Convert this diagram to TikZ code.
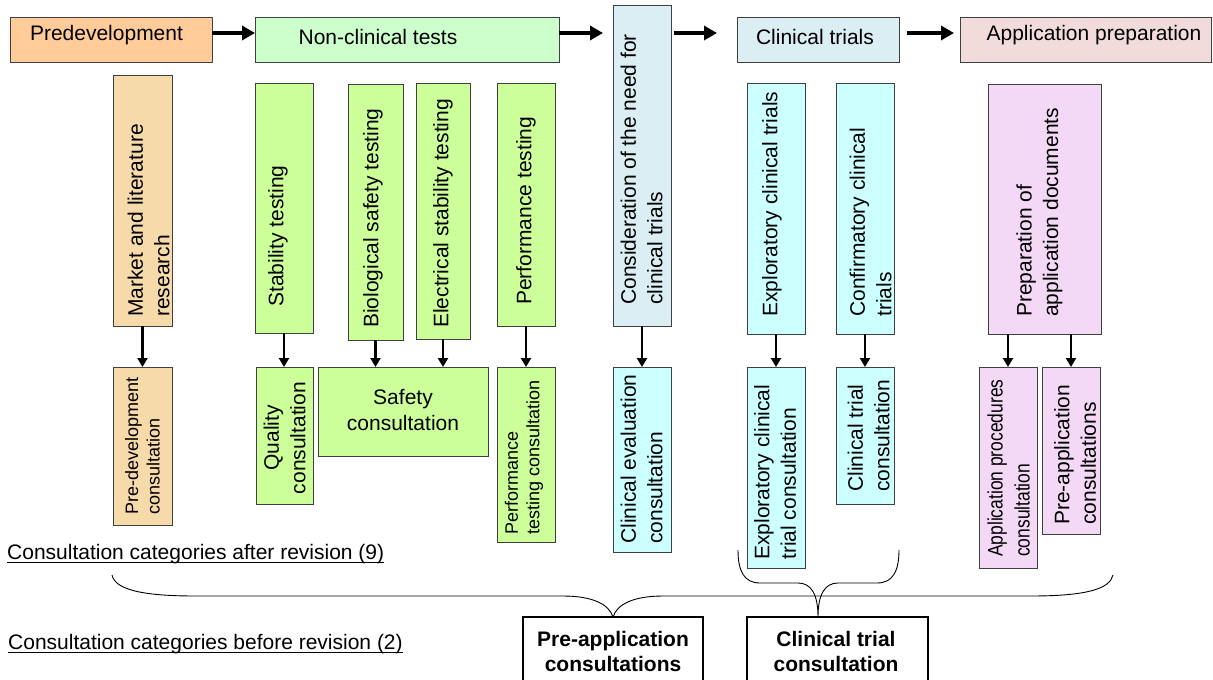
\documentclass[tikz,border=0pt]{standalone}
\usepackage{fontspec}
\setmainfont{Liberation Sans}
\newfontfamily\condfont[FakeStretch=0.83]{Liberation Sans}
\usetikzlibrary{arrows.meta,calc}

\definecolor{edge}{HTML}{404040}
\definecolor{peach}{HTML}{FFCC99}
\definecolor{mint}{HTML}{CCFFCC}
\definecolor{paleblue}{HTML}{DAEEF3}
\definecolor{rose}{HTML}{F2DCDB}
\definecolor{wheat}{HTML}{F7DAAA}
\definecolor{lime}{HTML}{CCFF99}
\definecolor{aqua}{HTML}{CCFFFF}
\definecolor{lilac}{HTML}{F3D9F6}

\newcommand{\fbig}{\fontsize{21}{26.5}\selectfont}
\newcommand{\fsmall}{\fontsize{18}{21.5}\selectfont}
\newcommand{\fcond}{\condfont\fontsize{21}{27}\selectfont}
\newcommand{\fbold}{\fontsize{21}{25}\selectfont\bfseries}

% \pbox[style]{name}{x1}{y1}{x2}{y2}{fill}: a rectangle node spanning the given corners
\newcommand{\pbox}[7][box]{%
  \node[#1, fill=#7, minimum width={(#5-#3)*1pt}, minimum height={(#6-#4)*1pt}]
    (#2) at ({(#3+#5)/2},{(#4+#6)/2}) {};}

\begin{document}
\begin{tikzpicture}[x=1pt,y=-1pt,
  box/.style={draw=edge, line width=1pt, inner sep=0pt, outer sep=0pt},
  oldbox/.style={draw=black, line width=1.2pt, inner sep=0pt, outer sep=0pt},
  htext/.style={anchor=base, inner sep=0pt, font=\fbig},
  vtext/.style={rotate=90, anchor=west, align=left, inner sep=0pt, font=\fbig},
  toparrow/.style={line width=3.5pt, -{Triangle[length=13pt,width=14pt]}},
  downarrow/.style={line width=2.2pt, -{Triangle[length=9pt,width=10pt]}},
  brace/.style={line width=0.9pt, line join=round}
]
\useasboundingbox (0,0) rectangle (1213,680);
\clip (0,0) rectangle (1213,680);

% ---- development stages ----
\pbox{predev}{10}{17}{212}{62}{peach}
\pbox{nonclin}{255}{17}{559}{62}{mint}
\pbox{consid}{613}{5}{671}{326}{paleblue}
\pbox{clin}{737}{17}{899}{62}{paleblue}
\pbox{apprep}{960}{17}{1211}{62}{rose}

\node[htext] (t-predev) at (106.5,40) {Predevelopment};
\node[htext] (t-nonclin) at (378,44) {Non-clinical tests};
\node[htext] (t-clin) at (815,44) {Clinical trials};
\node[htext] (t-apprep) at (1094,40) {Application preparation};

% ---- activities ----
\pbox{market}{113}{75}{172}{326}{wheat}
\pbox{stab}{255}{83}{313}{333}{lime}
\pbox{bio}{348}{84}{403}{340}{lime}
\pbox{elec}{416}{83}{470}{339}{lime}
\pbox{perf}{497}{83}{555}{326}{lime}
\pbox{explor}{747}{83}{805}{334}{aqua}
\pbox{confirm}{836}{83}{894}{334}{aqua}
\pbox{prep}{988}{84}{1101}{334}{lilac}

\node[vtext] (t-market) at (148.5,317) {Market and literature\\research};
\node[vtext] (t-stab) at (278,307) {Stability testing};
\node[vtext] (t-bio) at (373,328) {Biological safety testing};
\node[vtext] (t-elec) at (443,328) {Electrical stability testing};
\node[vtext] (t-perf) at (526,305) {Performance testing};
\node[vtext] (t-consid) at (641.5,305) {Consideration of the need for\\clinical trials};
\node[vtext] (t-explor) at (772,317) {Exploratory clinical trials};
\node[vtext] (t-confirm) at (870.5,317) {Confirmatory clinical\\trials};
\node[vtext] (t-prep) at (1039.5,317) {Preparation of\\application documents};

% ---- consultation categories after revision ----
\pbox{predevc}{113}{367}{172}{525}{wheat}
\pbox{quality}{256}{367}{313}{504}{lime}
\pbox{safety}{318}{367}{488}{456}{lime}
\pbox{perfc}{497}{367}{555}{542}{lime}
\pbox{clineval}{613}{367}{671}{552}{aqua}
\pbox{explorc}{747}{367}{805}{568}{aqua}
\pbox{clintrialc}{836}{367}{894}{504}{aqua}
\pbox{appproc}{979}{367}{1037}{568}{lilac}
\pbox{preappc}{1042}{367}{1100}{534}{lilac}

\node[vtext, font=\fsmall] (t-predevc) at (142.5,515) {Pre-development\\consultation};
\node[rotate=90, align=center, inner sep=0pt, font=\fbig] (t-quality) at (284.5,438) {Quality\\consultation};
\node[align=center, inner sep=0pt, font=\fbig] (t-safety) at (403,410) {Safety\\consultation};
\node[vtext, font=\fsmall] (t-perfc) at (524,535) {Performance\\testing consultation};
\node[vtext] (t-clineval) at (641.5,544) {Clinical evaluation\\consultation};
\node[vtext] (t-explorc) at (775,560) {Exploratory clinical\\trial consultation};
\node[vtext] (t-clintrialc) at (868.5,492) {Clinical trial\\consultation};
\node[vtext, font=\fcond] (t-appproc) at (1008.5,557) {Application procedures\\consultation};
\node[vtext] (t-preappc) at (1075,525) {Pre-application\\consultations};

% ---- flow between stages ----
\draw[toparrow] ([yshift=6.5pt]predev.east) -- ([yshift=6.5pt]nonclin.west);
\draw[toparrow, shorten >=10pt] ([yshift=6.5pt]nonclin.east) -- ([yshift=6.5pt]nonclin.east -| consid.west);
\draw[toparrow, shorten <=3pt, shorten >=20pt] ([yshift=6.5pt]clin.west -| consid.east) -- ([yshift=6.5pt]clin.west);
\draw[toparrow, shorten <=8pt, shorten >=6pt] ([yshift=6.5pt]clin.east) -- ([yshift=6.5pt]apprep.west);

% ---- activity to consultation ----
\draw[downarrow] (market.south) -- (predevc.north);
\draw[downarrow] (stab.south) -- (stab.south |- quality.north);
\draw[downarrow] (bio.south) -- (bio.south |- safety.north);
\draw[downarrow] (elec.south) -- (elec.south |- safety.north);
\draw[downarrow] (perf.south) -- (perfc.north);
\draw[downarrow] (consid.south) -- (clineval.north);
\draw[downarrow] (explor.south) -- (explorc.north);
\draw[downarrow] (confirm.south) -- (clintrialc.north);
\draw[downarrow] (appproc.north |- prep.south) -- (appproc.north);
\draw[downarrow] (preappc.north |- prep.south) -- (preappc.north);

% ---- section captions ----
\node[htext, anchor=base west] (after) at (7,559.5) {Consultation categories after revision (9)};
\draw[line width=1.3pt] ([yshift=-3pt]after.base west) -- ([yshift=-3pt]after.base east);
\node[htext, anchor=base west] (before) at (8,649.5) {Consultation categories before revision (2)};
\draw[line width=1.3pt] ([yshift=-3pt]before.base west) -- ([yshift=-3pt]before.base east);

% ---- consultation categories before revision ----
\pbox[oldbox]{preapp}{523}{617}{703}{700}{white}
\pbox[oldbox]{clintrial}{747}{617}{928}{700}{white}
\node[align=center, inner sep=0pt, font=\fbold] (t-preapp) at (613,651) {Pre-application\\consultations};
\node[align=center, inner sep=0pt, font=\fbold] (t-clintrial) at (836,651) {Clinical trial\\consultation};

% ---- braces grouping old categories ----
\coordinate (bigL) at (112,575);
\coordinate (bigR) at (1113,575);
\coordinate (smallL) at (738,550);
\coordinate (smallR) at (899,550);
\draw[brace] (bigL) .. controls (115,589) and (140,596) .. (195,596) -- (563,596)
  .. controls (592,596) and (609,604) .. (preapp.north)
  .. controls (617,604) and (634,596) .. (663,596) -- (1031,596)
  .. controls (1086,596) and (1110,589) .. (bigR);
\draw[brace] (smallL) .. controls (738,571) and (744,583) .. (760,583) -- (798,583)
  .. controls (811,583) and (818,594) .. (clintrial.north -| 818,0)
  .. controls (818,594) and (825,583) .. (838,583) -- (877,583)
  .. controls (893,583) and (899,571) .. (smallR);
\end{tikzpicture}
\end{document}
